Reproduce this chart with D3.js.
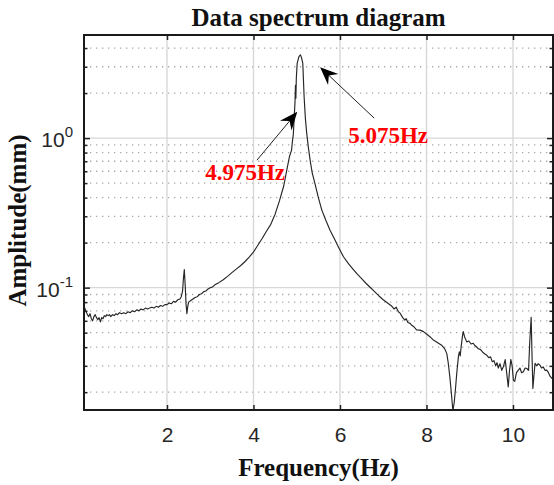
<!DOCTYPE html>
<html><head><meta charset="utf-8">
<script src="https://cdn.jsdelivr.net/npm/d3@7"></script>
<style>body{margin:0;background:#fff}svg{display:block}</style>
</head><body><svg id="c" width="554" height="485"></svg>
<script>
const freqs = [0.08,0.10,0.13,0.16,0.19,0.22,0.25,0.28,0.31,0.34,0.37,0.40,0.43,0.46,0.49,0.52,0.55,0.58,0.61,0.64,0.67,0.70,0.74,0.78,0.82,0.86,0.90,0.95,1.00,1.05,1.10,1.15,1.20,1.25,1.30,1.35,1.40,1.45,1.50,1.55,1.60,1.65,1.70,1.75,1.80,1.85,1.90,1.95,2.00,2.05,2.10,2.15,2.20,2.25,2.30,2.33,2.36,2.38,2.40,2.42,2.44,2.46,2.48,2.50,2.55,2.60,2.65,2.70,2.75,2.80,2.85,2.90,2.95,3.00,3.05,3.10,3.15,3.20,3.30,3.40,3.50,3.60,3.70,3.80,3.90,4.00,4.10,4.20,4.30,4.40,4.50,4.60,4.70,4.77,4.83,4.88,4.90,4.92,4.94,4.96,4.97,4.98,4.99,5.01,5.05,5.085,5.11,5.14,5.17,5.20,5.23,5.27,5.31,5.36,5.42,5.50,5.58,5.67,5.77,5.87,5.96,6.08,6.20,6.30,6.39,6.50,6.60,6.69,6.80,6.90,7.00,7.10,7.20,7.25,7.30,7.35,7.39,7.45,7.50,7.53,7.57,7.62,7.66,7.70,7.77,7.85,7.93,8.00,8.08,8.16,8.25,8.35,8.42,8.47,8.50,8.54,8.58,8.61,8.64,8.67,8.70,8.74,8.76,8.78,8.80,8.83,8.85,8.88,8.93,8.98,9.03,9.08,9.12,9.16,9.20,9.25,9.30,9.35,9.39,9.44,9.48,9.52,9.56,9.60,9.63,9.66,9.70,9.74,9.78,9.82,9.86,9.89,9.92,9.95,9.98,10.01,10.04,10.08,10.12,10.16,10.20,10.24,10.28,10.32,10.36,10.39,10.42,10.44,10.46,10.49,10.51,10.55,10.58,10.62,10.66,10.70,10.74,10.78,10.82,10.86,10.90,10.93];
const amps = [0.074,0.073,0.069,0.066,0.064,0.067,0.062,0.060,0.064,0.066,0.063,0.061,0.063,0.059,0.063,0.062,0.065,0.064,0.066,0.065,0.066,0.064,0.066,0.065,0.067,0.066,0.068,0.067,0.068,0.067,0.069,0.068,0.070,0.069,0.071,0.070,0.072,0.071,0.073,0.072,0.073,0.074,0.073,0.075,0.074,0.076,0.075,0.077,0.077,0.079,0.078,0.081,0.080,0.083,0.084,0.087,0.095,0.115,0.132,0.105,0.078,0.067,0.075,0.080,0.082,0.084,0.086,0.087,0.090,0.091,0.094,0.095,0.098,0.100,0.101,0.104,0.106,0.108,0.113,0.119,0.126,0.133,0.140,0.149,0.160,0.173,0.192,0.213,0.238,0.265,0.310,0.380,0.480,0.611,0.75,0.83,0.95,1.05,1.35,1.75,2.25,1.85,2.5,3.16,3.5,3.6,3.45,3.16,1.9,1.35,1.08,0.86,0.71,0.58,0.498,0.40,0.330,0.283,0.242,0.212,0.188,0.161,0.144,0.133,0.124,0.115,0.107,0.101,0.094,0.088,0.083,0.079,0.075,0.072,0.074,0.069,0.0675,0.063,0.0606,0.062,0.0585,0.0577,0.056,0.055,0.0521,0.052,0.0508,0.049,0.047,0.0446,0.043,0.0412,0.039,0.0362,0.0318,0.0253,0.019,0.0150,0.017,0.021,0.0268,0.035,0.0372,0.035,0.040,0.047,0.0508,0.047,0.0434,0.044,0.042,0.0425,0.041,0.0401,0.039,0.0385,0.037,0.036,0.0354,0.034,0.0345,0.032,0.0325,0.030,0.0315,0.029,0.031,0.028,0.0297,0.033,0.026,0.0217,0.028,0.0331,0.030,0.024,0.0236,0.027,0.0280,0.029,0.027,0.0274,0.029,0.0288,0.028,0.045,0.0633,0.035,0.0212,0.027,0.0312,0.030,0.031,0.0304,0.029,0.0295,0.028,0.0281,0.027,0.0255,0.0247,0.025];
const xTicks = [2,4,6,8,10];
const yMajor = [0.1, 1];
const yMajorLabels = [["10","-1"],["10","0"]];
const yMinor = [0.02,0.03,0.04,0.05,0.06,0.07,0.08,0.09,0.2,0.3,0.4,0.5,0.6,0.7,0.8,0.9,2,3,4];
const annLabels = ["5.075Hz","4.975Hz"];
const annLabelPos = [[6.19,0.922],[4.73,0.524]];
const annTips = [[5.54,2.98],[5.013,1.5]];
const annTails = [[6.79,1.36],[4.08,0.712]];
const titleText = "Data spectrum diagram";
const xLabel = "Frequency(Hz)";
const yLabel = "Amplitude(mm)";

const L=84, T=35, R=553, B=410;
const x = d3.scaleLinear().domain([0.081,10.925]).range([L,R]);
const y = d3.scaleLog().domain([0.0152,4.89]).range([B,T]);
const svg = d3.select("#c");

svg.append("defs").append("clipPath").attr("id","clip").append("rect")
  .attr("x",L).attr("y",T).attr("width",R-L).attr("height",B-T);

svg.append("g").selectAll("line").data(yMinor).join("line")
  .attr("x1",L).attr("x2",R).attr("y1",d=>y(d)).attr("y2",d=>y(d))
  .attr("stroke","#a8a8a8").attr("stroke-width",1.3).attr("stroke-dasharray","1.3,4.7");
svg.append("g").selectAll("line").data(xTicks).join("line")
  .attr("x1",d=>x(d)).attr("x2",d=>x(d)).attr("y1",T).attr("y2",B)
  .attr("stroke","#d8d8d8").attr("stroke-width",1.4);
svg.append("g").selectAll("line").data(yMajor).join("line")
  .attr("x1",L).attr("x2",R).attr("y1",d=>y(d)).attr("y2",d=>y(d))
  .attr("stroke","#d8d8d8").attr("stroke-width",1.4);

const line = d3.line().x((d,i)=>x(freqs[i])).y((d,i)=>y(amps[i]));
svg.append("path").attr("clip-path","url(#clip)").attr("d",line(amps))
  .attr("fill","none").attr("stroke","#262626").attr("stroke-width",1.15).attr("stroke-linejoin","round");

const fmt = ()=>"";
svg.append("g").attr("transform",`translate(0,${B})`)
  .call(d3.axisBottom(x).tickValues(xTicks).tickSizeInner(-5).tickSizeOuter(0).tickFormat(d3.format("d")).tickPadding(17))
  .call(g=>{g.select(".domain").remove();g.selectAll("line").attr("stroke","#222").attr("stroke-width",1.5);
    g.selectAll("text").attr("font-family","Liberation Sans, Arial, sans-serif").attr("font-size",21).attr("fill","#262626");});
svg.append("g").attr("transform",`translate(0,${T})`)
  .call(d3.axisTop(x).tickValues(xTicks).tickSizeInner(-5).tickSizeOuter(0).tickFormat(fmt))
  .call(g=>{g.select(".domain").remove();g.selectAll("line").attr("stroke","#222").attr("stroke-width",1.5);});
[[L,d3.axisLeft],[R,d3.axisRight]].forEach(([px,ax])=>{
  svg.append("g").attr("transform",`translate(${px},0)`)
    .call(ax(y).tickValues(yMajor).tickSizeInner(-6).tickSizeOuter(0).tickFormat(fmt))
    .call(g=>{g.select(".domain").remove();g.selectAll("line").attr("stroke","#222").attr("stroke-width",1.5);});
  svg.append("g").attr("transform",`translate(${px},0)`)
    .call(ax(y).tickValues(yMinor).tickSizeInner(-3.5).tickSizeOuter(0).tickFormat(fmt))
    .call(g=>{g.select(".domain").remove();g.selectAll("line").attr("stroke","#222").attr("stroke-width",1.5);});
});
const yl = svg.append("g").selectAll("text").data(yMajor).join("text")
  .attr("x",73).attr("y",d=>y(d)+9).attr("text-anchor","end")
  .attr("font-family","Liberation Sans, Arial, sans-serif").attr("font-size",21).attr("fill","#262626");
yl.append("tspan").text((d,i)=>yMajorLabels[i][0]);
yl.append("tspan").attr("dy",-10).attr("font-size",15).text((d,i)=>yMajorLabels[i][1]);

svg.append("rect").attr("x",L).attr("y",T).attr("width",R-L).attr("height",B-T)
  .attr("fill","none").attr("stroke","#1a1a1a").attr("stroke-width",2);

const serif = "Liberation Serif, Times New Roman, serif";
svg.append("text").attr("x",(L+R)/2).attr("y",26).attr("text-anchor","middle")
  .attr("font-family",serif).attr("font-weight","bold").attr("font-size",25).attr("fill","#111").text(titleText);
svg.append("text").attr("x",(L+R)/2).attr("y",476).attr("text-anchor","middle")
  .attr("font-family",serif).attr("font-weight","bold").attr("font-size",25).attr("fill","#111").text(xLabel);
svg.append("text").attr("transform",`translate(26,${(T+B)/2 - 2}) rotate(-90)`).attr("text-anchor","middle")
  .attr("font-family",serif).attr("font-weight","bold").attr("font-size",25).attr("fill","#111").text(yLabel);

annLabels.forEach((t,i)=>{
  svg.append("text").attr("x",x(annLabelPos[i][0])).attr("y",y(annLabelPos[i][1]))
    .attr("text-anchor", i===0?"start":"end")
    .attr("font-family",serif).attr("font-weight","bold").attr("font-size",23).attr("fill","#ff0000").text(t);
  const x1=x(annTails[i][0]), y1=y(annTails[i][1]), x2=x(annTips[i][0]), y2=y(annTips[i][1]);
  const a=Math.atan2(y2-y1,x2-x1), len=18, w=7.5, back=12;
  const ux=Math.cos(a), uy=Math.sin(a), nx=-uy, ny=ux;
  svg.append("line").attr("x1",x1).attr("y1",y1).attr("x2",x2-ux*back).attr("y2",y2-uy*back)
    .attr("stroke","#222").attr("stroke-width",1);
  const pts=[[x2,y2],[x2-ux*len+nx*w,y2-uy*len+ny*w],[x2-ux*back,y2-uy*back],[x2-ux*len-nx*w,y2-uy*len-ny*w]];
  svg.append("path").attr("d","M"+pts.map(p=>p.join(",")).join("L")+"Z").attr("fill","#000");
});
</script></body></html>
